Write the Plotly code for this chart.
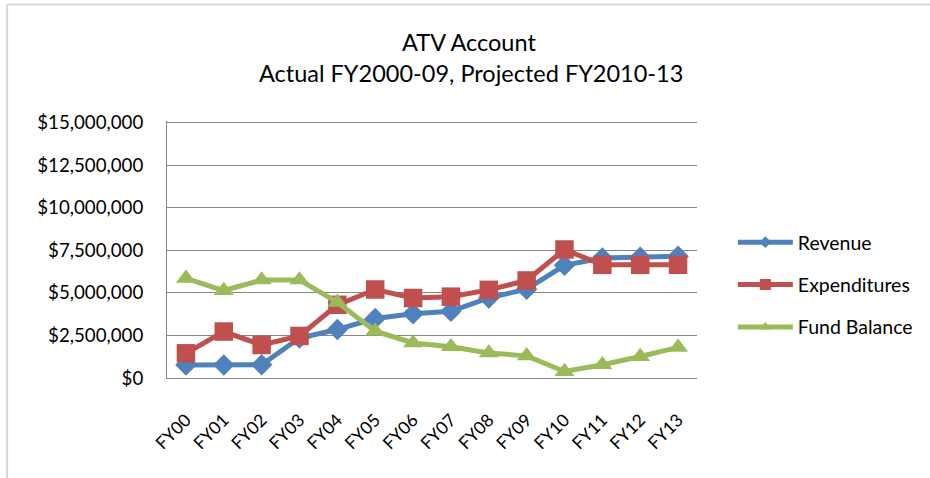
import plotly.graph_objects as go

categories = ["FY00", "FY01", "FY02", "FY03", "FY04", "FY05", "FY06",
              "FY07", "FY08", "FY09", "FY10", "FY11", "FY12", "FY13"]
revenue = [760000, 760000, 780000, 2350000, 2850000, 3500000, 3780000,
           3920000, 4700000, 5220000, 6620000, 7050000, 7100000, 7150000]
expenditures = [1450000, 2730000, 1940000, 2470000, 4300000, 5200000, 4700000,
                4780000, 5180000, 5730000, 7550000, 6650000, 6650000, 6650000]
fund_balance = [5860000, 5140000, 5760000, 5760000, 4450000, 2750000, 2060000,
                1840000, 1470000, 1300000, 380000, 780000, 1260000, 1800000]
y_ticks = [0, 2500000, 5000000, 7500000, 10000000, 12500000, 15000000]

FONT = "Lato, 'Open Sans', sans-serif"

fig = go.Figure()
series = [
    ("Revenue", revenue, "#4F81BD", "diamond", 16.5, 9),
    ("Expenditures", expenditures, "#C0504D", "square", 18.5, 11),
    ("Fund Balance", fund_balance, "#9BBB59", "triangle-up", 17.5, 10),
]
for name, vals, color, sym, size, lsize in series:
    fig.add_trace(go.Scatter(
        x=categories, y=vals, name=name, mode="lines+markers",
        line=dict(color=color, width=5),
        marker=dict(symbol=sym, size=size, color=color),
        legendgroup=name, showlegend=False,
    ))
for name, vals, color, sym, size, lsize in series:
    fig.add_trace(go.Scatter(
        x=[None], y=[None], name=name, mode="lines+markers",
        line=dict(color=color, width=5),
        marker=dict(symbol=sym, size=lsize, color=color),
        legendgroup=name, showlegend=True,
    ))

L, R, T, B = 167, 231, 121, 100
W, H = 930, 478
pw, ph = W - L - R, H - T - B

def px_x(x):
    return (x - L) / pw

def px_y(y):
    return (H - B - y) / ph

fig.update_layout(
    width=W, height=H,
    margin=dict(l=L, r=R, t=T, b=B),
    paper_bgcolor="white", plot_bgcolor="white",
    font=dict(family=FONT, size=18, color="#000000"),
    showlegend=True,
    legend=dict(
        x=px_x(735), y=px_y(223), xanchor="left", yanchor="top",
        font=dict(family=FONT, size=19.5),
        tracegroupgap=14, traceorder="grouped",
        itemwidth=55, bgcolor="rgba(0,0,0,0)",
    ),
    xaxis=dict(
        type="category", tickangle=-45, showgrid=False,
        showline=True, linecolor="#868686", linewidth=1,
        ticks="", ticklabelstandoff=24,
        tickfont=dict(family=FONT, size=17.5),
        range=[-0.5, len(categories) - 0.5],
    ),
    yaxis=dict(
        range=[0, 15100000], tickvals=y_ticks, tickformat="$,.0f",
        showgrid=True, gridcolor="#868686", gridwidth=1,
        showline=True, linecolor="#868686", linewidth=1,
        zeroline=False, ticks="", ticklabelstandoff=19,
        tickfont=dict(family=FONT, size=18.7),
    ),
    annotations=[
        dict(text="ATV Account", x=px_x(470), y=px_y(42), xref="paper", yref="paper",
             showarrow=False, xanchor="center", yanchor="middle",
             font=dict(family=FONT, size=23.5)),
        dict(text="Actual FY2000-09, Projected FY2010-13", x=px_x(472), y=px_y(73),
             xref="paper", yref="paper", showarrow=False, xanchor="center",
             yanchor="middle", font=dict(family=FONT, size=23.5)),
    ],
    shapes=[
        dict(type="line", xref="paper", yref="paper", x0=px_x(6.5), x1=px_x(940),
             y0=px_y(4.5), y1=px_y(4.5), line=dict(color="#d9d9d9", width=2)),
        dict(type="line", xref="paper", yref="paper", x0=px_x(6.5), x1=px_x(6.5),
             y0=px_y(4.5), y1=px_y(490), line=dict(color="#d9d9d9", width=2)),
    ],
)

fig.write_html("out.html", config={"displayModeBar": False},
               post_script="document.body.style.margin='0';")
